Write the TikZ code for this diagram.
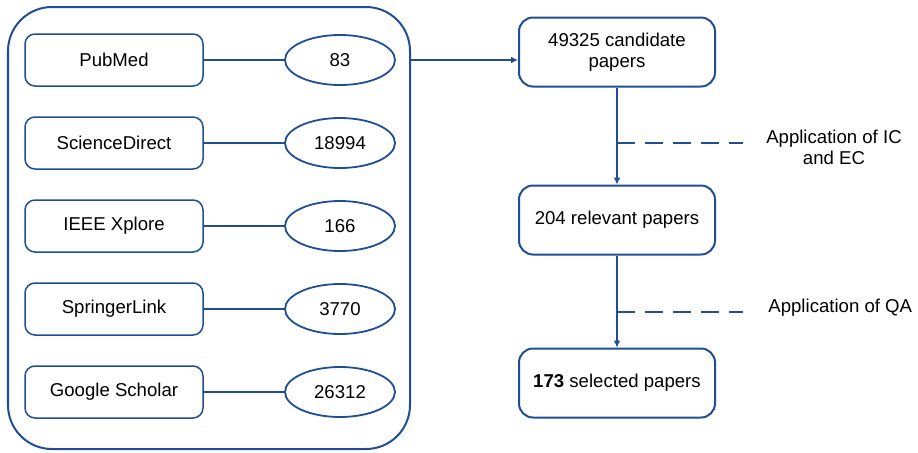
\documentclass[tikz,border=0pt]{standalone}
\usepackage{fontspec}
\setmainfont{Liberation Sans}
\usetikzlibrary{shapes.geometric,arrows.meta}
\definecolor{flowblue}{RGB}{31,78,150}
\tikzset{
  srcbox/.style={draw=flowblue, line width=0.75pt, rounded corners=5pt, minimum width=89pt, minimum height=26pt, inner sep=0pt},
  cntoval/.style={ellipse, draw=flowblue, line width=0.9pt, minimum width=55pt, minimum height=25pt, inner sep=0pt},
  stagebox/.style={draw=flowblue, line width=1pt, rounded corners=7pt, minimum width=98pt, minimum height=34.5pt, inner sep=0pt, align=center},
  link/.style={draw=flowblue, line width=0.8pt},
  flow/.style={draw=flowblue, line width=0.8pt, -{Latex[length=3.5pt,width=3.5pt]}},
  ruledash/.style={draw=flowblue, line width=1pt, dash pattern=on 9pt off 5pt},
  rulenote/.style={align=center, inner sep=0pt}
}
\begin{document}
\begin{tikzpicture}[x=0.5pt, y=-0.5pt, font=\fontsize{9.3}{10.5}\selectfont]
    \useasboundingbox (0,0) rectangle (918,452);

    % Databases and their hits
    \draw[flowblue, line width=1pt, rounded corners=22pt] (8,7) rectangle (410,449);
    \foreach \dbname/\hits [count=\i] in {PubMed/83, ScienceDirect/18994, IEEE Xplore/166, SpringerLink/3770, Google Scholar/26312} {
        \node[srcbox] (src\i) at (114, {60+(\i-1)*83}) {\dbname};
        \node[cntoval] (cnt\i) at (340, {60+(\i-1)*83}) {\hits};
        \draw[link] (src\i) -- (cnt\i);
    }
    \coordinate (srcout) at (410,60);

    % Screening stages
    \node[stagebox] (cand) at (617,52) {49325 candidate\\papers};
    \node[stagebox] (relev) at (617,220) {204 relevant papers};
    \node[stagebox] (selec) at (617,383) {\textbf{173} selected papers};

    \draw[flow] (srcout) -- (srcout -| cand.west);
    \draw[flow] (cand) -- (relev);
    \draw[flow] (relev) -- (selec);

    % Criteria applied
    \coordinate (icec) at (617,143);
    \coordinate (icecend) at (743,143);
    \draw[ruledash] (icec) -- (icecend);
    \node[rulenote] (icecnote) at (834,147) {Application of IC\\and EC};

    \coordinate (qa) at (617,312);
    \coordinate (qaend) at (743,312);
    \draw[ruledash] (qa) -- (qaend);
    \node[rulenote, anchor=west] (qanote) at (768,308) {Application of QA};
\end{tikzpicture}
\end{document}
